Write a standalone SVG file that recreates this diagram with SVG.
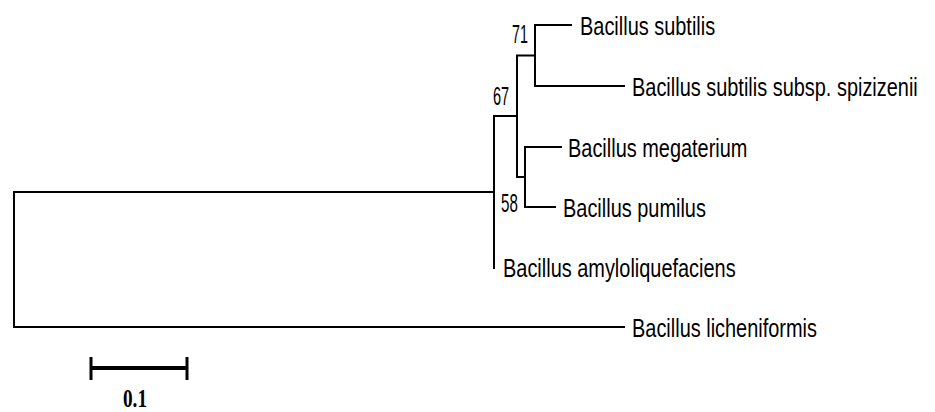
<svg xmlns="http://www.w3.org/2000/svg" width="935" height="412" viewBox="0 0 935 412">
<style>
.br{fill:none;stroke:#000;stroke-width:2;stroke-linecap:square}
.lf{font-family:"Liberation Sans",Arial,sans-serif;font-size:26px;fill:#000}
.bs{font-family:"Liberation Sans",Arial,sans-serif;font-size:26px;fill:#000}
.sc{font-family:"Liberation Serif","Times New Roman",serif;font-size:25px;font-weight:bold;fill:#000;text-anchor:middle}
</style>
<rect width="935" height="412" fill="#fff"/>
<g id="connectors">
<path class="br" d="M494,192 H14 V327 H624"/>
<path class="br" d="M517,116 H494 V268"/>
<path class="br" d="M535,55.5 H517 V177 H525"/>
<path class="br" d="M571,25 H535 V86 H624"/>
<path class="br" d="M561,147 H525 V207 H555"/>
</g>
<g id="node-71" transform="translate(512,43) scale(0.55,1)"><text class="bs" x="0" y="0">71</text></g>
<g id="node-67" transform="translate(493,105) scale(0.56,1)"><text class="bs" x="0" y="0">67</text></g>
<g id="node-58" transform="translate(501,212) scale(0.58,1)"><text class="bs" x="0" y="0">58</text></g>
<g id="leaf-subtilis" transform="translate(580,35) scale(0.767,1)"><text class="lf" x="0" y="0">Bacillus subtilis</text></g>
<g id="leaf-spizizenii" transform="translate(632,96) scale(0.767,1)"><text class="lf" x="0" y="0">Bacillus subtilis subsp. spizizenii</text></g>
<g id="leaf-megaterium" transform="translate(568,157) scale(0.767,1)"><text class="lf" x="0" y="0">Bacillus megaterium</text></g>
<g id="leaf-pumilus" transform="translate(563,217) scale(0.767,1)"><text class="lf" x="0" y="0">Bacillus pumilus</text></g>
<g id="leaf-amyloliquefaciens" transform="translate(503,277) scale(0.767,1)"><text class="lf" x="0" y="0">Bacillus amyloliquefaciens</text></g>
<g id="leaf-licheniformis" transform="translate(632,337) scale(0.767,1)"><text class="lf" x="0" y="0">Bacillus licheniformis</text></g>
<g id="scale-bar">
<line x1="91" y1="368" x2="187" y2="368" stroke="#000" stroke-width="4"/>
<line x1="91" y1="357" x2="91" y2="380" stroke="#000" stroke-width="3"/>
<line x1="187" y1="357" x2="187" y2="380" stroke="#000" stroke-width="3"/>
<g transform="translate(135,407) scale(0.77,1)"><text class="sc" x="0" y="0">0.1</text></g>
</g>
</svg>
